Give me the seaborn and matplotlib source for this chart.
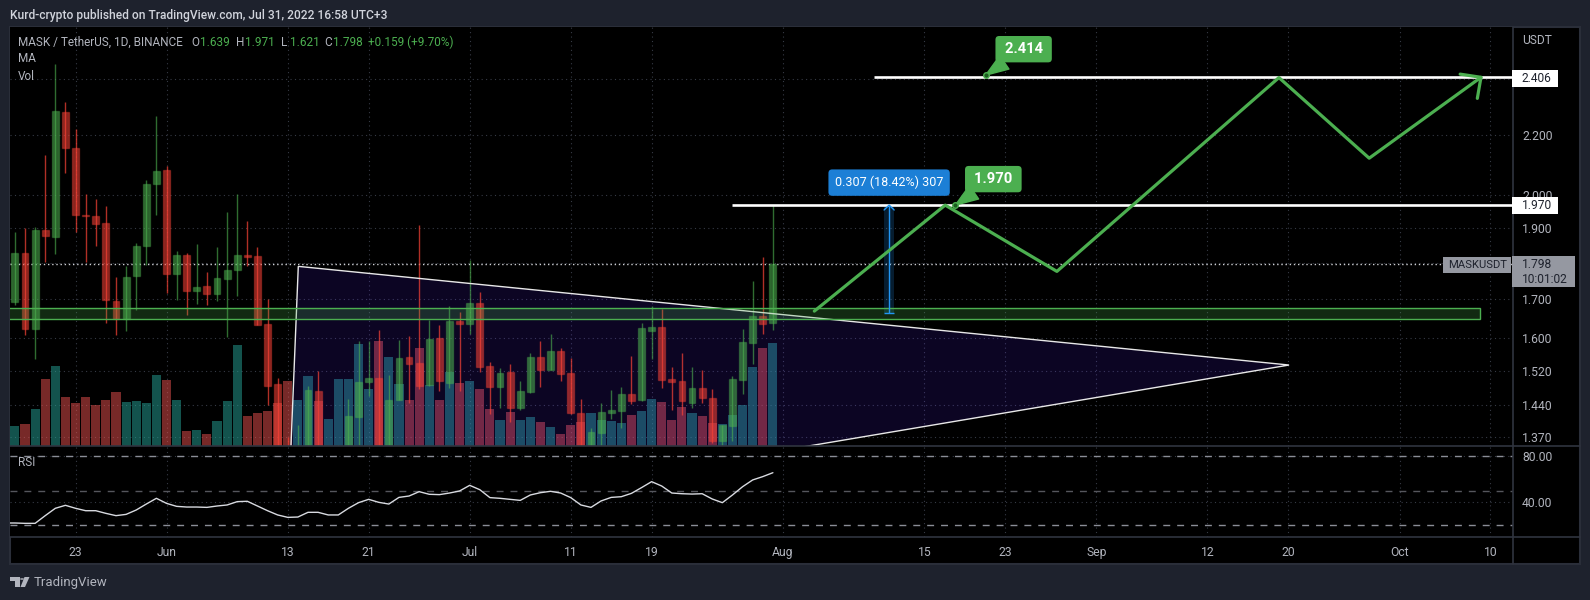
import numpy as np
import pandas as pd
import matplotlib
matplotlib.use("Agg")
import matplotlib.pyplot as plt
import seaborn as sns
from matplotlib.lines import Line2D
from matplotlib.patches import Circle, Polygon, Rectangle
from matplotlib.ticker import NullLocator

# candles, one per day from May 17 (day 0); a few lows run below the visible pane
opens = [1.692, 1.828, 1.624, 1.896, 1.873, 2.279, 2.154, 1.941, 1.937, 1.916,
         1.696, 1.649, 1.762, 1.849, 2.035, 2.081, 1.770, 1.823, 1.723, 1.736,
         1.715, 1.754, 1.779, 1.823, 1.820, 1.636, 1.489, 1.300, 1.240, 1.310,
         1.473, 1.290, 1.290, 1.330, 1.414, 1.494, 1.503, 1.330, 1.452, 1.553,
         1.540, 1.487, 1.600, 1.492, 1.643, 1.636, 1.691, 1.531, 1.483, 1.518,
         1.435, 1.470, 1.553, 1.523, 1.568, 1.516, 1.423, 1.340, 1.380, 1.424,
         1.428, 1.466, 1.452, 1.618, 1.627, 1.501, 1.496, 1.446, 1.481, 1.458,
         1.362, 1.395, 1.499, 1.589, 1.657, 1.639]
highs = [1.890, 1.902, 1.905, 2.129, 2.455, 2.316, 2.220, 2.006, 1.990, 1.968,
         1.761, 1.792, 1.857, 2.050, 2.266, 2.095, 1.834, 1.829, 1.854, 1.775,
         1.846, 1.950, 2.006, 1.923, 1.846, 1.701, 1.503, 1.371, 1.397, 1.485,
         1.519, 1.340, 1.353, 1.455, 1.593, 1.593, 1.621, 1.510, 1.596, 1.606,
         1.911, 1.646, 1.633, 1.682, 1.667, 1.808, 1.720, 1.541, 1.526, 1.536,
         1.496, 1.564, 1.593, 1.611, 1.576, 1.551, 1.455, 1.390, 1.446, 1.476,
         1.483, 1.556, 1.639, 1.683, 1.675, 1.530, 1.564, 1.530, 1.522, 1.477,
         1.397, 1.508, 1.624, 1.750, 1.817, 1.971]
lows = [1.684, 1.609, 1.549, 1.801, 1.826, 2.071, 1.888, 1.801, 1.847, 1.637,
        1.607, 1.617, 1.671, 1.793, 1.941, 1.717, 1.697, 1.658, 1.688, 1.684,
        1.696, 1.602, 1.710, 1.790, 1.632, 1.440, 1.220, 1.190, 1.210, 1.270,
        1.270, 1.240, 1.250, 1.310, 1.353, 1.462, 1.310, 1.310, 1.452, 1.446,
        1.477, 1.485, 1.472, 1.481, 1.472, 1.611, 1.518, 1.421, 1.435, 1.403,
        1.430, 1.468, 1.483, 1.522, 1.495, 1.420, 1.330, 1.320, 1.340, 1.409,
        1.390, 1.443, 1.450, 1.549, 1.479, 1.429, 1.419, 1.435, 1.446, 1.358,
        1.352, 1.362, 1.467, 1.537, 1.611, 1.621]
closes = [1.829, 1.624, 1.896, 1.876, 2.284, 2.153, 1.939, 1.936, 1.914, 1.697,
          1.649, 1.761, 1.849, 2.037, 2.079, 1.770, 1.822, 1.721, 1.733, 1.715,
          1.758, 1.781, 1.822, 1.817, 1.634, 1.485, 1.300, 1.270, 1.320, 1.475,
          1.300, 1.310, 1.330, 1.416, 1.494, 1.503, 1.330, 1.452, 1.551, 1.537,
          1.485, 1.598, 1.495, 1.644, 1.635, 1.691, 1.530, 1.483, 1.516, 1.435,
          1.472, 1.554, 1.523, 1.569, 1.513, 1.422, 1.340, 1.381, 1.426, 1.430,
          1.467, 1.451, 1.626, 1.628, 1.499, 1.494, 1.450, 1.479, 1.456, 1.362,
          1.397, 1.501, 1.591, 1.657, 1.636, 1.798]
volumes = [20, 22, 37, 67, 80, 49, 43, 49, 41, 46, 54, 44, 45, 43, 71, 66, 46, 15, 16, 12,
           25, 45, 101, 30, 33, 35, 43, 65, 46, 70, 45, 27, 67, 67, 102, 57, 105, 89, 62, 46,
           98, 61, 46, 74, 63, 65, 57, 37, 26, 34, 26, 29, 24, 19, 12, 21, 24, 33, 26, 25,
           23, 31, 35, 47, 44, 26, 39, 33, 30, 23, 22, 31, 41, 79, 98, 103]
# rsi starts one day before the first candle, the line runs off the left edge
rsi_values = [22.0, 22.0, 21.7, 21.7, 28.4, 34.8, 37.4, 34.8, 32.7, 32.7, 30.4, 28.4, 29.5, 33.3,
              38.5, 43.5, 39.1, 36.5, 35.9, 35.9, 35.6, 36.8, 37.7, 40.6, 40.9, 36.8, 32.7, 29.0,
              26.9, 27.2, 31.3, 31.3, 29.0, 29.0, 34.8, 39.7, 42.6, 40.0, 38.5, 44.3, 45.5, 49.3,
              47.0, 46.7, 48.1, 49.9, 54.8, 51.0, 44.1, 43.5, 42.6, 41.7, 46.4, 48.4, 49.6, 48.1,
              44.1, 37.7, 35.6, 41.2, 44.3, 44.9, 47.8, 52.8, 58.0, 54.2, 48.1, 47.5, 47.2, 47.5,
              42.9, 39.7, 46.4, 53.6, 59.5, 62.4, 65.8]

price_ticks = [1.37, 1.44, 1.52, 1.6, 1.7, 1.8, 1.9, 2.0, 2.2, 2.4]
rsi_ticks = [40, 80]
rsi_bands = [20, 50, 80]
time_ticks = [6, 15, 27, 35, 45, 55, 63, 76, 90, 98, 107, 118, 126, 137, 146]
time_labels = ["23", "Jun", "13", "21", "Jul", "11", "19", "Aug", "15", "23", "Sep", "12", "20", "Oct", "10"]

# hand drawn objects on the chart
path_days = [79.1, 92.05, 103.1, 125.07, 134.0, 145.06]
path_prices = [1.669, 1.970, 1.776, 2.405, 2.120, 2.406]
head_days = [143.0, 145.06, 144.7]
head_prices = [2.418, 2.406, 2.328]
triangle_days = [28.04, 126.07, 26.96]
triangle_prices = [1.790, 1.534, 1.178]
zone_days = [-5, 145.0]
zone_prices = [1.648, 1.677]
level_prices = [2.406, 1.970]
level_starts = [85, 71]
callout_days = [96.05, 93.05]
callout_prices = [2.414, 1.970]
measure_days = [86, 87]
measure_prices = [1.664, 1.970]

W, H = 1590, 600
BG = "#1e222d"
BORDER = "#2a2e39"
TEXT = "#b2b5be"
GREEN = "#4caf50"
GRID = "#363a45"
UP = (0.30, 0.69, 0.31)
DOWN = (0.96, 0.26, 0.21)

sns.set_theme(style="dark", rc={
    "figure.facecolor": BG,
    "axes.facecolor": "black",
    "font.family": "Roboto",
    "axes.edgecolor": BORDER,
})

fig = plt.figure(figsize=(W / 100, H / 100), dpi=100)


def fx(px):
    return px / W


def fy(py):
    return 1 - py / H


def px_rect(x0, y0, x1, y1, **kw):
    fig.add_artist(Rectangle((fx(x0), fy(y1)), (x1 - x0) / W, (y1 - y0) / H, transform=fig.transFigure, **kw))


def px_text(x, y, s, size=12, color=TEXT, **kw):
    kw.setdefault("va", "center")
    fig.text(fx(x), fy(y), s, fontsize=size * 0.72, color=color, zorder=8, **kw)


px_rect(10, 27, 1580, 564, facecolor="black", edgecolor=BORDER, lw=1.5, zorder=-1)

ax_left, ax_right = 10, 1512.7
ax_price = fig.add_axes([fx(ax_left), fy(446), (ax_right - ax_left) / W, 419 / H])
ax_rsi = fig.add_axes([fx(ax_left), fy(537), (ax_right - ax_left) / W, 91 / H])
ax_vol = ax_price.twinx()
ax_draw = ax_price.twinx()

df = pd.DataFrame({"day": np.arange(len(opens)), "open": opens, "high": highs, "low": lows,
                   "close": closes, "volume": volumes})
df["up"] = df["close"] >= df["open"]

# volume sits at the very back
sns.barplot(data=df, x="day", y="volume", hue="up", palette={True: "#26a69a", False: "#ef5350"},
            native_scale=True, dodge=False, width=0.9, gap=0, alpha=0.5, saturation=1, legend=False,
            linewidth=0, ax=ax_vol)
ax_vol.set_ylim(0, 419)
ax_vol.axis("off")

# triangle tint goes over the volume bars
ax_draw.set_yscale("log")
ax_draw.add_patch(Polygon(list(zip(triangle_days, triangle_prices)), closed=True, facecolor=(0.35, 0.15, 1.0, 0.14),
                          edgecolor="none", zorder=1))

# candles are see through, so they brighten where they cross a volume bar
for is_up, rgb, wick_alpha in [(True, UP, 0.62), (False, DOWN, 0.72)]:
    part = df[df["up"] == is_up]
    ax_draw.vlines(part["day"], part["low"], part["high"], color=rgb + (wick_alpha,), lw=1, zorder=2)
    top = part[["open", "close"]].max(axis=1)
    bottom = part[["open", "close"]].min(axis=1)
    ax_draw.bar(part["day"], top - bottom, bottom=bottom, width=0.68, color=rgb + (0.56,),
                edgecolor=rgb + (0.35,), lw=1, zorder=3)

# zone and levels
ax_draw.add_patch(Polygon(list(zip(triangle_days, triangle_prices)), closed=True, fill=False, edgecolor="#e8e8e8",
                          lw=1.0, zorder=4))
ax_draw.add_patch(Rectangle((zone_days[0], zone_prices[0]), zone_days[1] - zone_days[0], zone_prices[1] - zone_prices[0],
                            facecolor=(0.30, 0.69, 0.31, 0.24), edgecolor=GREEN, lw=1.0, zorder=4))
for level, start in zip(level_prices, level_starts):
    ax_draw.hlines(level, start, 149, color="white", lw=1.9, zorder=5)

# measure tool
ax_draw.fill_between(measure_days, measure_prices[0], measure_prices[1], color="#2196f3", alpha=0.2, lw=0, zorder=3)
mid_day = sum(measure_days) / 2
ax_draw.vlines(mid_day, measure_prices[0], measure_prices[1], color="#2196f3", lw=1, zorder=5)
ax_draw.hlines(measure_prices[0], measure_days[0], measure_days[1], color="#2196f3", lw=1, zorder=5)
ax_draw.plot([measure_days[0], mid_day, measure_days[1]], [1.955, measure_prices[1], 1.955], color="#2196f3", lw=1, zorder=5)
ax_draw.annotate("0.307 (18.42%) 307", xy=(mid_day, measure_prices[1]), xytext=(0, 22.5), textcoords="offset pixels",
                 ha="center", va="center", color="white", fontsize=9.0, zorder=7,
                 bbox=dict(boxstyle="round,pad=0.52,rounding_size=0.3", fc="#1c7fd6", ec="none"))

# projected path
sns.lineplot(x=path_days, y=path_prices, sort=False, estimator=None, color=GREEN, lw=2.3, ax=ax_draw, zorder=6)
sns.lineplot(x=head_days, y=head_prices, sort=False, estimator=None, color=GREEN, lw=2.3, ax=ax_draw, zorder=6)

# price callouts
for day, price in zip(callout_days, callout_prices):
    ax_draw.annotate(f"\u2009{price:.3f}\u2009", xy=(day, price), xytext=(38, 26), textcoords="offset pixels",
                     ha="center", va="center", color="white", fontsize=10.6, fontweight="bold", zorder=7,
                     bbox=dict(boxstyle="round,pad=0.42,rounding_size=0.25", fc=GREEN, ec="none"),
                     arrowprops=dict(arrowstyle="wedge,tail_width=1.1,shrink_factor=0.5", fc=GREEN, ec=GREEN,
                                     shrinkA=0, shrinkB=0))
    ax_draw.plot(day, price, "o", ms=4, mfc="#1b5e20", mec=GREEN, mew=1, zorder=8)

# rsi pane
rsi_days = np.arange(len(rsi_values)) - 1
sns.lineplot(x=rsi_days, y=rsi_values, estimator=None, color="#d8dae0", lw=1.0, ax=ax_rsi, zorder=4)
for band in rsi_bands:
    col = "#55565c" if band == 50 else "#8a8d96"
    ax_rsi.axhline(band, color=col, lw=1, ls=(0, (5, 5)), zorder=3)

# axes set up, twins have to match the price pane
ax_price.set_yscale("log")
for ax in (ax_price, ax_vol, ax_draw, ax_rsi):
    ax.set_xlim(-0.485, 148.2)
for ax in (ax_price, ax_draw):
    ax.set_ylim(1.3515, 2.603)
ax_rsi.set_ylim(9.8, 89.06)
ax_draw.axis("off")

ax_price.set_yticks(price_ticks)
ax_price.set_yticklabels([f"{t:.3f}" for t in price_ticks])
ax_price.yaxis.set_minor_locator(NullLocator())
ax_price.tick_params(axis="y", left=False, right=False, labelleft=False, labelright=True, length=0, pad=6.7,
                     labelsize=8.7, labelcolor=TEXT)
ax_price.set_xticks(time_ticks)
ax_price.tick_params(axis="x", bottom=False, labelbottom=False)
ax_price.axhline(1.798, color="#cfd0d4", lw=1, ls=(0, (1, 2)), zorder=1)

ax_rsi.set_yticks(rsi_ticks)
ax_rsi.set_yticklabels([f"{t:.2f}" for t in rsi_ticks])
ax_rsi.yaxis.tick_right()
ax_rsi.tick_params(axis="y", length=0, pad=6.7, labelsize=8.7, labelcolor=TEXT)
ax_rsi.set_xticks(time_ticks)
ax_rsi.set_xticklabels(time_labels)
ax_rsi.tick_params(axis="x", length=0, pad=6.3, labelsize=8.7, labelcolor=TEXT)

for ax in (ax_price, ax_rsi):
    ax.grid(True, color=GRID, lw=0.8, ls=(0, (1, 3)), zorder=0)
    ax.set_axisbelow(True)
    for spine in ax.spines.values():
        spine.set_visible(False)
ax_rsi.set_xlabel("")
ax_rsi.set_ylabel("")
ax_vol.set_xlabel("")

# pane separators
for x0, y0, x1, y1 in [(10, 446, 1580, 446), (10, 537, 1580, 537), (ax_right, 27, ax_right, 564)]:
    fig.add_artist(Line2D([fx(x0), fx(x1)], [fy(y0), fy(y1)], color="#30343f", lw=1.2, zorder=5))

# price tags on the scale
px_rect(1512, 70, 1558, 87, facecolor="white", edgecolor="none", zorder=6)
px_rect(1512, 197, 1558, 213.5, facecolor="white", edgecolor="none", zorder=6)
px_text(1522, 79, "2.406", color="#1e222d")
px_text(1522, 205.5, "1.970", color="#1e222d")
px_rect(1443, 256.5, 1511, 273, facecolor="#9598a1", edgecolor="none", zorder=6)
px_rect(1512, 256, 1575, 287, facecolor="#9598a1", edgecolor="none", zorder=6)
px_text(1448.5, 264.5, "MASKUSDT", color="#1e222d", size=11.3)
px_text(1522, 264.5, "1.798", color="#1e222d")
px_text(1522, 279, "10:01:02", color="#1e222d")
px_text(1522, 41, "USDT")

# header and legend text
px_text(10, 15, "Kurd-crypto published on TradingView.com, Jul 31, 2022 16:58 UTC+3", color="#d1d4dc", size=12, fontweight="medium")
px_text(18, 42, "MASK / TetherUS, 1D, BINANCE", size=11.7)
for x, key, val in [(191, "O", "1.639"), (236, "H", "1.971"), (281, "L", "1.621"), (324, "C", "1.798")]:
    px_text(x, 42, key, size=11.7)
    px_text(x + 9, 42, val, color=GREEN, size=11.7)
px_text(368, 42, "+0.159 (+9.70%)", color=GREEN, size=11.7)
px_text(18, 59, "MA", size=11.7)
px_text(18, 76, "Vol", size=11.7)
px_text(18, 462, "RSI", size=11.7)

# footer logo
px_rect(10, 577, 19.5, 581, facecolor=TEXT, edgecolor="none", zorder=6)
px_rect(15, 581, 19.5, 587, facecolor=TEXT, edgecolor="none", zorder=6)
fig.add_artist(Polygon([(fx(24.5), fy(577)), (fx(29.5), fy(577)), (fx(25), fy(587)), (fx(20.5), fy(587))],
                       transform=fig.transFigure, facecolor=TEXT, edgecolor="none", zorder=6))
fig.add_artist(Circle((fx(22), fy(579)), 2 / W, transform=fig.transFigure, facecolor=TEXT, edgecolor="none", zorder=6))
px_text(33.5, 582.5, "TradingView", size=13.3)

fig.savefig("out.png", dpi=100, facecolor=BG)
